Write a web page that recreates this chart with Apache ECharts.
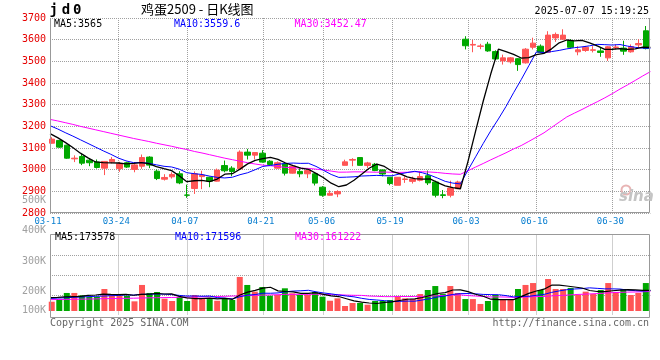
<!DOCTYPE html>
<html>
<head>
<meta charset="utf-8">
<script src="https://cdn.jsdelivr.net/npm/echarts@6/dist/echarts.min.js"></script>
<style>
html,body{margin:0;padding:0;background:#fff;}
#chart{width:660px;height:360px;}
</style>
</head>
<body>
<div id="chart"></div>
<script>
// ---- data ----
const dates = ['03-11','03-12','03-13','03-14','03-17','03-18','03-19','03-20','03-21','03-24',
 '03-25','03-26','03-27','03-28','03-31','04-01','04-02','04-03','04-07','04-08',
 '04-09','04-10','04-11','04-14','04-15','04-16','04-17','04-18','04-21','04-22',
 '04-23','04-24','04-25','04-28','04-29','04-30','05-06','05-07','05-08','05-09',
 '05-12','05-13','05-14','05-15','05-16','05-19','05-20','05-21','05-22','05-23',
 '05-26','05-27','05-28','05-29','05-30','06-03','06-04','06-05','06-06','06-09',
 '06-10','06-11','06-12','06-13','06-16','06-17','06-18','06-19','06-20','06-23',
 '06-24','06-25','06-26','06-27','06-30','07-01','07-02','07-03','07-04','07-07'];
const dateTicks = ['03-11','03-24','04-07','04-21','05-06','05-19','06-03','06-16','06-30'];

const openP = [3122,3135,3113,3050,3061,3044,3035,3007,3036,3005, 3032,3001,3016,3058,2993,2956,2967,2981,2883,2913,
 2968,2965,2947,3019,3007,3004,3081,3067,3076,3039, 3007,3027,2984,2992,2981,2981,2919,2882,2888,3020,
 3044,3056,3019,3025,2999,2965,2928,2955,2946,2951, 2972,2943,2884,2882,2912,3602,3575,3569,3579,3545,
 3502,3498,3512,3493,3565,3570,3542,3608,3602,3595, 3544,3550,3551,3548,3516,3564,3561,3544,3576,3641];
const closeP = [3141,3104,3053,3053,3030,3032,3010,3038,3047,3027, 3012,3022,3056,3021,2959,2964,2978,2939,2882,2981,
 2975,2947,2998,2995,2992,3081,3067,3079,3035,3024, 3032,2984,3016,2981,2996,2938,2882,2891,2899,3036,
 3047,3020,3031,2996,2980,2936,2965,2957,2957,2968, 2939,2882,2881,2915,2943,3572,3578,3571,3548,3511,
 3516,3516,3485,3556,3584,3542,3621,3624,3621,3565, 3553,3565,3553,3541,3567,3566,3547,3568,3582,3559];
const lowP = [3120,3100,3050,3035,3021,3016,3005,2975,3029,2990, 3008,2988,3004,3007,2952,2950,2959,2933,2870,2888,
 2910,2919,2945,2988,2970,3004,3047,3047,3032,3019, 3005,2973,2982,2965,2961,2927,2875,2881,2873,3020,
 3016,3019,3008,2993,2969,2928,2928,2939,2936,2946, 2929,2872,2868,2872,2910,3555,3542,3556,3544,3508,
 3485,3490,3456,3490,3555,3540,3540,3590,3600,3559, 3528,3544,3541,3521,3502,3555,3530,3540,3562,3555];
const highP = [3150,3137,3115,3066,3072,3050,3047,3040,3058,3036, 3036,3035,3070,3062,3001,2979,2988,2993,2931,2992,
 2995,2968,3005,3042,3016,3089,3096,3080,3090,3044, 3038,3035,3018,3008,2998,2985,2924,2904,2905,3046,
 3053,3058,3036,3031,3000,2966,2966,2969,2968,2992, 2996,2949,2906,2949,2949,3616,3599,3581,3590,3551,
 3531,3520,3515,3561,3609,3578,3639,3633,3648,3602, 3570,3571,3570,3565,3570,3578,3595,3578,3602,3663];

const ma5 = [3166,3148,3126,3102,3076.2,3054.4,3035.6,3032.6,3031.4,3030.8, 3026.8,3029.2,3032.8,3027.6,3014,3004.4,2995.6,2972.2,2944.4,2948.8,
 2951,2944.8,2956.6,2979.2,2981.4,3002.6,3026.6,3042.8,3050.8,3057.2, 3047.4,3030.8,3018.2,3007.4,3001.8,2983,2962.6,2937.6,2921.2,2929.2,
 2951,2978.6,3006.6,3026,3014.8,2992.6,2981.6,2966.8,2959,2956.6, 2957.2,2940.6,2925.4,2917,2912,3038.6,3177.8,3315.8,3442.4,3556,
 3544.8,3532.4,3515.2,3516.8,3531.4,3536.6,3557.6,3585.4,3598.4,3594.6, 3596.8,3585.6,3571.4,3555.4,3555.8,3558.4,3554.8,3557.8,3566,3564.4];
const ma10 = [3203,3188,3171,3155,3138,3121,3104,3087,3071,3053.5, 3040.6,3032.4,3032.7,3029.5,3022.4,3015.6,3012.4,3002.5,2986,2981.4,
 2977.7,2970.2,2964.4,2961.8,2965.1,2976.8,2985.7,2999.7,3015,3019.3, 3025,3028.7,3030.5,3029.1,3029.5,3015.2,2996.7,2977.9,2964.3,2965.5,
 2967,2970.6,2972.1,2973.6,2972,2971.8,2980.1,2986.7,2992.5,2985.7, 2974.9,2961.1,2946.1,2938,2934.3,2997.9,3059.2,3120.6,3179.7,3234,
 3291.7,3355.1,3415.5,3479.6,3543.7,3540.7,3545,3550.3,3557.6,3563, 3566.7,3571.6,3578.4,3576.9,3575.2,3577.6,3570.2,3564.6,3560.7,3560.1];
const ma30 = [3232,3225,3217,3209,3200,3192,3184,3176,3168,3160, 3152,3144,3137,3130,3122,3115,3108,3100,3093,3084,
 3077,3069,3061,3053,3046,3039,3032,3026,3021,3018.1, 3014.4,3010.4,3009.2,3006.8,3005.7,3002.5,2998.3,2993.4,2988.4,2988.7,
 2989.9,2989.8,2989,2988.2,2988.9,2987.9,2987.5,2988.1,2990.6,2990.2, 2989,2986.8,2982.9,2980.2,2978.6,2995,3012,3028.4,3045.5,3061.7,
 3077.9,3095.6,3111.2,3130.4,3150,3170.1,3194.8,3219.2,3243.3,3260.9, 3277.8,3295.9,3313.3,3331.5,3351.1,3372.1,3391.5,3411.8,3432.7,3452.5];

const volume = [78000,100000,151000,151000,131000,117000,120000,184000,142000,126000,
 126000,81000,218000,151000,159000,103000,84000,117000,84000,134000,
 103000,100000,86000,109000,92000,285000,218000,162000,201000,128000,
 134000,190000,148000,134000,134000,159000,120000,86000,106000,42000,
 67000,67000,53000,84000,84000,92000,126000,106000,100000,142000,
 176000,209000,142000,209000,151000,100000,100000,59000,84000,134000,
 100000,100000,184000,218000,234000,176000,268000,184000,184000,193000,
 134000,162000,142000,176000,234000,159000,184000,134000,151000,234000];
const volMa5 = [112000,114000,118000,120000,122200,130000,134000,140600,138800,137800,
 139600,131800,138600,140400,147000,142400,143000,122800,109400,104400,
 104400,107600,101400,106400,98000,134400,158000,173200,191600,198800,
 168600,163000,160200,146800,148000,153000,139000,126600,121000,102600,
 84200,73600,67000,62600,71000,76000,87800,98400,101600,113200,
 130000,146600,153800,175600,177400,162200,140400,123800,98800,95400,
 95400,95400,120400,147200,167200,182400,216000,216000,209200,201000,
 192600,171400,163000,161400,169600,174600,179000,177400,172400,172400];
const volMa10 = [105000,108000,111000,114000,117000,120000,123000,125000,128000,130000,
 134800,132900,139600,139600,142400,141000,137400,130700,124900,125700,
 123400,125300,112100,107900,101200,119400,132800,137300,149000,148400,
 151500,160500,166700,169200,173400,160800,151000,143400,133900,125300,
 118600,106300,96800,91800,86800,80100,80700,82700,82100,92100,
 103000,117200,126100,138600,145300,146100,143500,138800,137200,136400,
 128800,117900,122100,123000,131300,138900,155700,168200,178200,184100,
 187500,193700,189500,185300,185300,183600,175200,170200,166900,171000];
const volMa30 = [95000,96000,97000,98000,99000,100000,101000,103000,104000,105000,
 106000,107000,109000,110000,111000,112000,113000,115000,116000,117000,
 118000,120000,121000,123000,125000,127000,129000,131000,133000,134700,
 136600,139600,139500,138900,139000,140400,140400,137100,135900,133100,
 131200,130700,125200,123000,120500,120100,121500,121100,121700,121900,
 124400,128000,129900,133200,135200,129000,125100,121600,117700,117900,
 116800,113800,115000,117800,121100,121700,126600,129900,132500,137500,
 139800,142900,145900,149000,154000,156200,158100,159100,160800,163800];

const volTickLabels = ['500K','400K','300K','200K','100K'];
const priceLegend = ['MA5:3565','MA10:3559.6','MA30:3452.47'];
const volLegend = ['MA5:173578','MA10:171596','MA30:161222'];

// ---- chart ----
const MONO = '"DejaVu Sans Mono", monospace';
const UP = '#ff5555', DOWN = '#00a800';
const GRIDLINE = {color:'#a0a0a0', type:[1,1], width:1};
const tickSet = new Set(dateTicks);
const isTick = (i, v) => tickSet.has(dates[i]);

const candleData = dates.map((d, i) => [openP[i], closeP[i], lowP[i], highP[i]]);
const volData = volume.map((v, i) => ({value: v, itemStyle: {color: closeP[i] >= openP[i] ? UP : DOWN}}));

function txt(x, y, text, color, font, align) {
  return {type:'text', x:x, y:y, silent:true, z:100,
    style:{text:text, fill:color, font:font, align:align||'left', verticalAlign:'middle',
           textAlign:align||'left', textVerticalAlign:'middle'}};
}

const volLabelY = [200, 230, 261.5, 291, 310.5];

const graphics = [
  // panel borders
  {type:'polyline', silent:true, z:90, shape:{points:[[50.5,18],[50.5,212.5],[649.5,212.5],[649.5,18]]},
   style:{stroke:'#999', fill:null, lineWidth:1}},
  {type:'rect', silent:true, z:90, shape:{x:50.5, y:234.5, width:599, height:83},
   style:{stroke:'#999', fill:null, lineWidth:1}},
  // header
  txt(53.7, 10.5, 'j', '#000', 'bold 14px ' + MONO, 'center'),
  txt(66, 10.5, 'd', '#000', 'bold 14px ' + MONO, 'center'),
  txt(77.3, 10.5, '0', '#000', 'bold 14px ' + MONO, 'center'),
  txt(141, 9.5, '鸡蛋2509 - 日K线图', '#000', '13px "Noto Sans CJK SC", sans-serif', 'left'),
  txt(649, 11.5, '2025-07-07 15:19:25', '#000', '10px ' + MONO, 'right'),
  // price legend
  txt(54, 24, priceLegend[0], '#000', '10px ' + MONO),
  txt(174, 24, priceLegend[1], '#0000ff', '10px ' + MONO),
  txt(294.5, 24, priceLegend[2], '#ff00ff', '10px ' + MONO),
  // volume legend
  txt(55, 237.5, volLegend[0], '#000', '10px ' + MONO),
  txt(175, 237.5, volLegend[1], '#0000ff', '10px ' + MONO),
  txt(295, 237.5, volLegend[2], '#ff00ff', '10px ' + MONO),
  // footer
  txt(50, 323, 'Copyright 2025 SINA.COM', '#666', '10px ' + MONO, 'left'),
  txt(649, 323, 'http://finance.sina.com.cn', '#666', '10px ' + MONO, 'right'),
  // watermark
  {type:'circle', silent:true, z:1, shape:{cx:626, cy:190, r:4.5}, style:{stroke:'#e8b4b4', fill:null, lineWidth:2}},
  txt(619, 197.5, 'sina', '#c4c4c4', 'italic bold 15px "DejaVu Sans", sans-serif', 'left')
];
volTickLabels.forEach((t, i) => graphics.push(txt(46, volLabelY[i], t, '#a0a0a0', '10px ' + MONO, 'right')));

const lineCommon = {type:'line', symbol:'none', showSymbol:false, silent:true, smooth:false};

const option = {
  animation: false,
  backgroundColor: '#fff',
  grid: [
    {left:48, top:18, width:601.6, height:195},
    {left:50, top:18, width:600.4, height:195},
    {left:48, top:234.7, width:601.6, height:83},
    {left:50, top:235.5, width:600.4, height:79.6}
  ],
  xAxis: [
    {gridIndex:0, type:'category', data:dates, boundaryGap:true, show:false},
    {gridIndex:1, type:'category', data:dates, boundaryGap:false,
     axisLine:{show:false}, axisTick:{show:false},
     axisLabel:{interval:isTick, color:'#0a7fd0', fontSize:9, fontFamily:MONO, margin:4, padding:[0,4,0,0]},
     splitLine:{show:true, interval:isTick, lineStyle:GRIDLINE}},
    {gridIndex:2, type:'category', data:dates, boundaryGap:true, show:false},
    {gridIndex:3, type:'category', data:dates, boundaryGap:false,
     axisLine:{show:false}, axisTick:{show:false}, axisLabel:{show:false},
     splitLine:{show:true, interval:isTick, lineStyle:GRIDLINE}}
  ],
  yAxis: [
    {gridIndex:0, type:'value', min:2800, max:3700, show:false},
    {gridIndex:1, type:'value', min:2800, max:3700, interval:100,
     axisLine:{show:false}, axisTick:{show:false},
     axisLabel:{color:'#e60000', fontSize:10, fontFamily:MONO, margin:4, padding:[0,0,3,0],
                formatter:(v) => String(v)},
     splitLine:{show:true, lineStyle:GRIDLINE}},
    {gridIndex:2, type:'value', min:-56000, max:638600, show:false},
    {gridIndex:3, type:'value', min:0, max:4, interval:1,
     axisLine:{show:false}, axisTick:{show:false}, axisLabel:{show:false},
     splitLine:{show:true, showMinLine:false, showMaxLine:false, lineStyle:GRIDLINE}},
    {gridIndex:3, type:'value', min:-34300, max:631800, show:false}
  ],
  series: [
    {type:'candlestick', xAxisIndex:0, yAxisIndex:0, data:candleData, barWidth:6, silent:true,
     itemStyle:{color:UP, color0:DOWN, borderColor:UP, borderColor0:DOWN, borderWidth:1}},
    Object.assign({}, lineCommon, {xAxisIndex:1, yAxisIndex:1, data:ma5, z:5, lineStyle:{color:'#000', width:1.3}}),
    Object.assign({}, lineCommon, {xAxisIndex:1, yAxisIndex:1, data:ma10, z:4, lineStyle:{color:'#0000ff', width:1}}),
    Object.assign({}, lineCommon, {xAxisIndex:1, yAxisIndex:1, data:ma30, z:3, lineStyle:{color:'#ff00ff', width:1}}),
    {type:'bar', xAxisIndex:2, yAxisIndex:2, data:volData, barWidth:6, silent:true},
    Object.assign({}, lineCommon, {xAxisIndex:3, yAxisIndex:4, data:volMa5, z:5, lineStyle:{color:'#000', width:1.2}}),
    Object.assign({}, lineCommon, {xAxisIndex:3, yAxisIndex:4, data:volMa10, z:4, lineStyle:{color:'#0000ff', width:1}}),
    Object.assign({}, lineCommon, {xAxisIndex:3, yAxisIndex:4, data:volMa30, z:3, lineStyle:{color:'#ff00ff', width:1}})
  ],
  graphic: graphics
};

const chart = echarts.init(document.getElementById('chart'), null, {renderer:'canvas'});
chart.setOption(option);
</script>
</body>
</html>
